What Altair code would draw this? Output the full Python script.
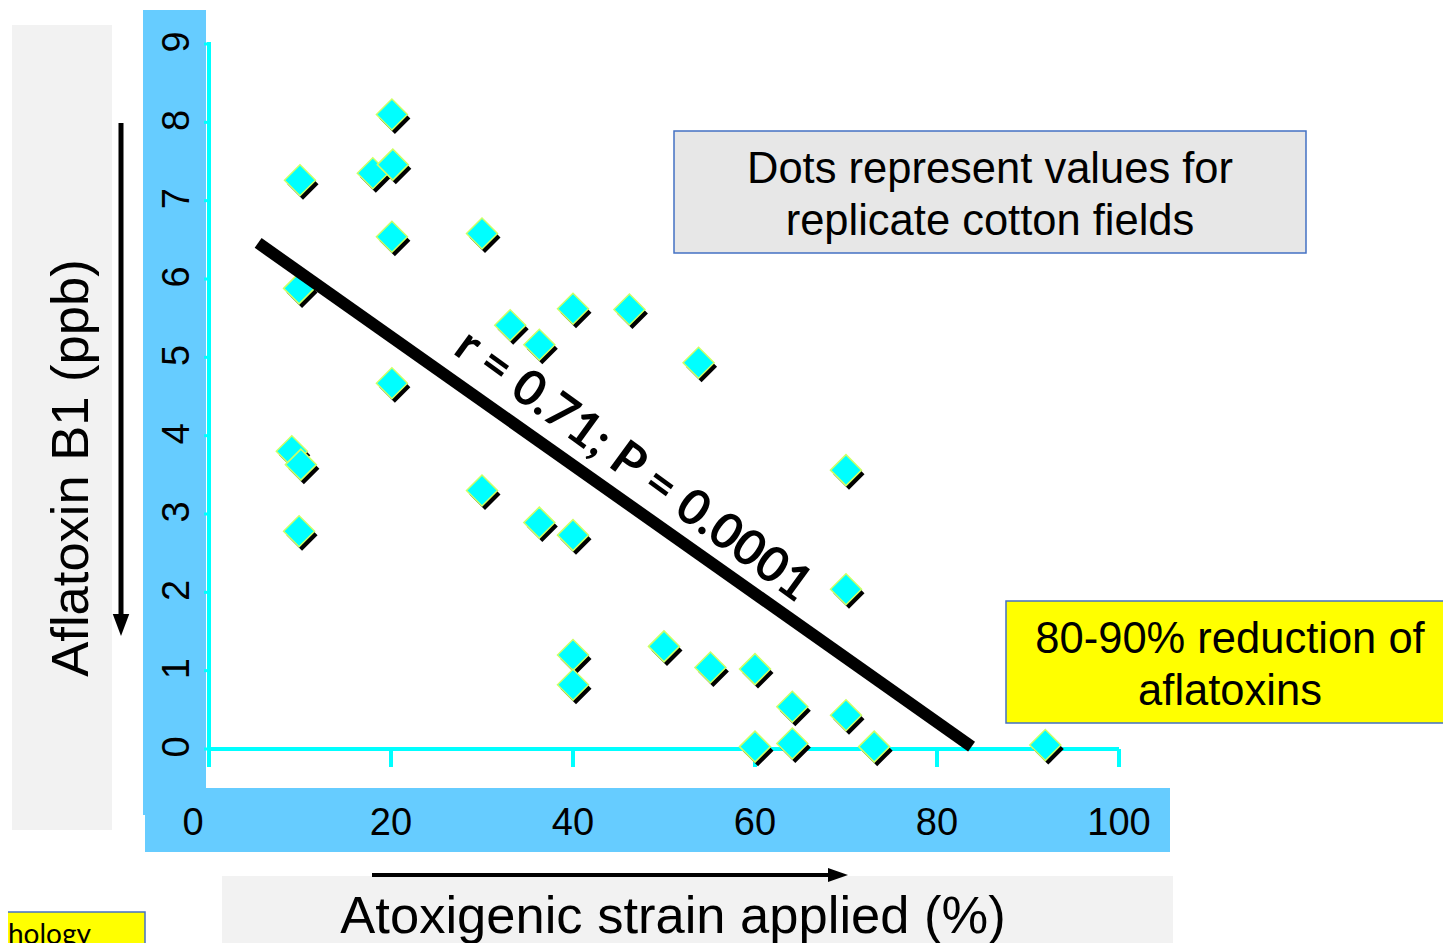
import altair as alt
import pandas as pd

# ---------------- data ----------------
strain_pct = [10.0, 20.1, 18.0, 20.2, 20.1, 30.0, 9.9, 20.1, 33.1, 36.3, 40.0, 46.2, 53.8,
              9.1, 10.1, 9.9, 30.0, 36.3, 40.0, 70.0, 70.0, 40.0, 40.0, 50.0, 55.1, 60.0,
              64.1, 70.0, 60.0, 64.1, 73.1, 91.9]
aflatoxin_ppb = [7.26, 8.10, 7.35, 7.46, 6.54, 6.58, 5.88, 4.67, 5.41, 5.16, 5.62, 5.61, 4.93,
                 3.80, 3.63, 2.78, 3.30, 2.89, 2.73, 3.56, 2.04, 1.20, 0.82, 1.31, 1.04, 1.02,
                 0.54, 0.43, 0.03, 0.07, 0.03, 0.05]
fit_strain = [5.4, 83.8]
fit_aflatoxin = [6.46, 0.03]
x_ticks = [0, 20, 40, 60, 80, 100]
y_ticks = [0, 1, 2, 3, 4, 5, 6, 7, 8, 9]

x_title = "Atoxigenic strain applied (%)"
y_title = "Aflatoxin B1 (ppb)"
stats_label = "r = 0.71; P = 0.0001"
note_lines = ["Dots represent values for", "replicate cotton fields"]
reduction_lines = ["80-90% reduction of", "aflatoxins"]
footer_text = "hology"

points = pd.DataFrame({"strain": strain_pct, "aflatoxin": aflatoxin_ppb})
fit = pd.DataFrame({"strain": fit_strain, "aflatoxin": fit_aflatoxin})
xt = pd.DataFrame({"v": x_ticks, "label": [str(v) for v in x_ticks]})
yt = pd.DataFrame({"v": y_ticks, "label": [str(v) for v in y_ticks]})
x_span = pd.DataFrame({"lo": [min(x_ticks)], "hi": [max(x_ticks)], "base": [min(y_ticks)]})
one = pd.DataFrame({"k": [0]})

# ---------------- layout helpers ----------------
X0, Y0 = 209, 44  # page position of the plot origin


def px(v):
    return v - X0


def py(v):
    return v - Y0


CYAN = "#00FFFF"
BAND = "#66CCFF"
GRAY = "#F2F2F2"
BORDER = "#4472C4"
FONT = "Liberation Sans"

xs = alt.Scale(domain=[0, 100], nice=False, zero=False)
ys = alt.Scale(domain=[0, 9], nice=False, zero=False)


def rect(x1, x2, y1, y2, fill, stroke=None, sw=0):
    kw = dict(fill=fill)
    if stroke:
        kw.update(stroke=stroke, strokeWidth=sw)
    else:
        kw.update(strokeWidth=0)
    return alt.Chart(one).mark_rect(**kw).encode(
        x=alt.value(px(x1)), x2=alt.value(px(x2)),
        y=alt.value(py(y1)), y2=alt.value(py(y2)))


def label(text, x, y, size, **kw):
    return alt.Chart(one).mark_text(text=text, font=kw.pop("font", FONT), fontSize=size,
                                    color="black", **kw).encode(
        x=alt.value(px(x)), y=alt.value(py(y)))


# ---------------- background boxes ----------------
boxes = [
    rect(12, 112, 25, 830, GRAY),
    rect(143, 206, 10, 815, BAND),
    rect(145, 1170, 788, 852, BAND),
    rect(222, 1173, 876, 960, GRAY),
    rect(674, 1306, 131, 253, "#E7E7E7", BORDER, 1.5),
    rect(1006, 1460, 601, 723, "#FFFF00", BORDER, 1.5),
    rect(-5, 145, 912, 960, "#FFFF00", BORDER, 1.5),
]

# ---------------- axis lines and ticks (drawn through the scales) ----------------
x_domain = alt.Chart(x_span).mark_rule(color=CYAN, strokeWidth=4).encode(
    x=alt.X("lo:Q", scale=xs, axis=None), x2="hi:Q",
    y=alt.Y("base:Q", scale=ys, axis=None))
x_tick_marks = alt.Chart(xt).mark_rule(color=CYAN, strokeWidth=4).encode(
    x=alt.X("v:Q", scale=xs, axis=None), y=alt.value(py(749)), y2=alt.value(py(767)))
y_domain = alt.Chart(one).mark_rule(color=CYAN, strokeWidth=4).encode(
    x=alt.value(0), y=alt.value(py(42)), y2=alt.value(py(767)))
y_tick_marks = alt.Chart(yt).mark_rule(color=CYAN, strokeWidth=3).encode(
    y=alt.Y("v:Q", scale=ys, axis=None), x=alt.value(-5), x2=alt.value(0))

# ---------------- points and fit ----------------
shadow = alt.Chart(points).mark_point(
    shape="diamond", filled=True, size=960, fill="black", strokeWidth=0, opacity=1,
    xOffset=3, yOffset=4).encode(
    x=alt.X("strain:Q", scale=xs, axis=None),
    y=alt.Y("aflatoxin:Q", scale=ys, axis=None))

diamonds = alt.Chart(points).mark_point(
    shape="diamond", filled=True, size=960, fill=CYAN, stroke="#CCFF66",
    strokeWidth=1.5, opacity=1).encode(
    x=alt.X("strain:Q", scale=xs, axis=None),
    y=alt.Y("aflatoxin:Q", scale=ys, axis=None))

fit_line = alt.Chart(fit).mark_line(color="black", strokeWidth=12, strokeCap="butt").encode(
    x=alt.X("strain:Q", scale=xs, axis=None),
    y=alt.Y("aflatoxin:Q", scale=ys, axis=None))

# ---------------- tick labels ----------------
xlab = alt.Chart(xt).transform_filter("datum.v > 0").mark_text(
    font=FONT, fontSize=38, align="center", baseline="middle", color="black").encode(
    x=alt.X("v:Q", scale=xs, axis=None), y=alt.value(py(824)), text="label:N")
xlab0 = alt.Chart(xt).transform_filter("datum.v == 0").mark_text(
    font=FONT, fontSize=38, align="center", baseline="middle", color="black", dx=-16).encode(
    x=alt.X("v:Q", scale=xs, axis=None), y=alt.value(py(824)), text="label:N")
ylab = alt.Chart(yt).mark_text(
    font=FONT, fontSize=38, angle=270, align="center", baseline="middle",
    color="black", dx=2).encode(
    x=alt.value(px(178)), y=alt.Y("v:Q", scale=ys, axis=None), text="label:N")

# ---------------- titles and notes ----------------
ytitle = label(y_title, 88, 468, 52.5, angle=270, align="center", baseline="alphabetic")
xtitle = label(x_title, 673, 933, 52.5, align="center", baseline="alphabetic")
note = label(note_lines, 990, 183, 43.5, align="center", baseline="alphabetic", lineHeight=52)
reduction = label(reduction_lines, 1230, 653, 43.5, align="center", baseline="alphabetic",
                  lineHeight=52)
footer = label(footer_text, 8, 944, 28, font="Lato", align="left", baseline="alphabetic")
stats = label(stats_label, 633, 466, 49, font="Lato", fontWeight="bold", angle=36,
              align="center", baseline="middle")

# ---------------- arrows ----------------
v_shaft = alt.Chart(one).mark_rule(color="black", strokeWidth=5).encode(
    x=alt.value(px(121)), y=alt.value(py(123)), y2=alt.value(py(618)))
v_head = alt.Chart(one).mark_point(shape="M-0.75,-1L0.75,-1L0,1Z", filled=True, size=484,
                                   fill="black", strokeWidth=0, opacity=1).encode(
    x=alt.value(px(121)), y=alt.value(py(625)))
h_shaft = alt.Chart(one).mark_rule(color="black", strokeWidth=4).encode(
    x=alt.value(px(372)), x2=alt.value(px(832)), y=alt.value(py(875)))
h_head = alt.Chart(one).mark_point(shape="M-1,-0.7L1,0L-1,0.7Z", filled=True, size=400,
                                   fill="black", strokeWidth=0, opacity=1).encode(
    x=alt.value(px(838)), y=alt.value(py(875)))

chart = alt.layer(
    *boxes, x_domain, x_tick_marks, y_domain, y_tick_marks,
    shadow, diamonds, fit_line,
    xlab, xlab0, ylab, ytitle, xtitle, note, reduction, footer, stats,
    v_shaft, v_head, h_shaft, h_head,
).properties(
    width=910, height=705,
    padding={"left": 201, "top": 36, "right": 324, "bottom": 194},
    autosize=alt.AutoSizeParams(type="none"),
    background="white",
).configure_view(stroke=None)

chart.save("out.html", embed_options={"renderer": "svg", "actions": False})
